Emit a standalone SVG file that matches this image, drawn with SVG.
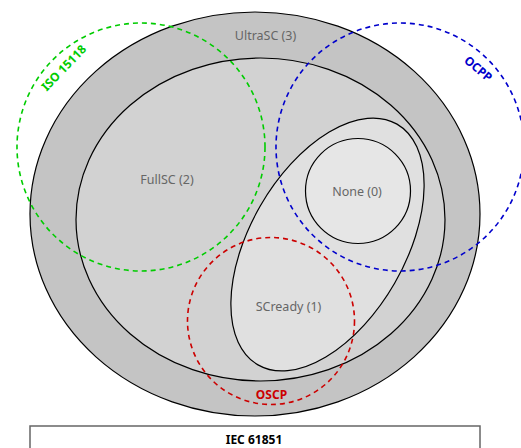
<svg xmlns="http://www.w3.org/2000/svg" width="521" height="448" viewBox="0 0 521 448">
<style>
.set{stroke:#000;stroke-width:1.2}
.lbl{font-family:"Noto Sans","Liberation Sans",sans-serif;font-size:12.5px;fill:#666;text-anchor:middle}
.dash{fill:none;stroke-width:1.6;stroke-dasharray:5 4}
.plbl{font-family:"Noto Sans","Liberation Sans",sans-serif;font-size:12px;font-weight:bold;text-anchor:middle}
</style>
<rect width="521" height="448" fill="#fff"/>
<g id="iec61851">
<rect x="30" y="426" width="450" height="40" fill="#fff" stroke="#666" stroke-width="1.5"/>
<text x="254" y="444" class="plbl" fill="#000">IEC 61851</text>
</g>
<g id="ultrasc">
<ellipse class="set" cx="255" cy="214" rx="225" ry="202" fill="#c4c4c4"/>
<text x="265.5" y="40" class="lbl">UltraSC (3)</text>
</g>
<g id="fullsc">
<ellipse class="set" cx="260.5" cy="219.5" rx="184.5" ry="161.5" fill="#d2d2d2"/>
<text x="167" y="184" class="lbl">FullSC (2)</text>
</g>
<g id="scready">
<ellipse class="set" cx="327.5" cy="244.5" rx="139" ry="77.5" transform="rotate(-60 327.5 244.5)" fill="#e0e0e0"/>
<text x="288.5" y="311" class="lbl">SCready (1)</text>
</g>
<g id="none">
<circle class="set" cx="358" cy="191" r="52.5" fill="#e6e6e6"/>
<text x="357" y="196" class="lbl">None (0)</text>
</g>
<g id="iso15118">
<circle class="dash" cx="141" cy="147" r="124" stroke="#00cc00"/>
<text class="plbl" fill="#00cc00" transform="translate(64 68) rotate(-46)" y="4">ISO 15118</text>
</g>
<g id="ocpp">
<circle class="dash" cx="400" cy="147" r="124" stroke="#0000cc"/>
<text class="plbl" fill="#0000cc" transform="translate(478 69) rotate(40)" y="4">OCPP</text>
</g>
<g id="oscp">
<circle class="dash" cx="271" cy="321" r="83.5" stroke="#cc0000"/>
<text class="plbl" fill="#cc0000" x="271.5" y="399">OSCP</text>
</g>
<g id="connectors"/>
</svg>
